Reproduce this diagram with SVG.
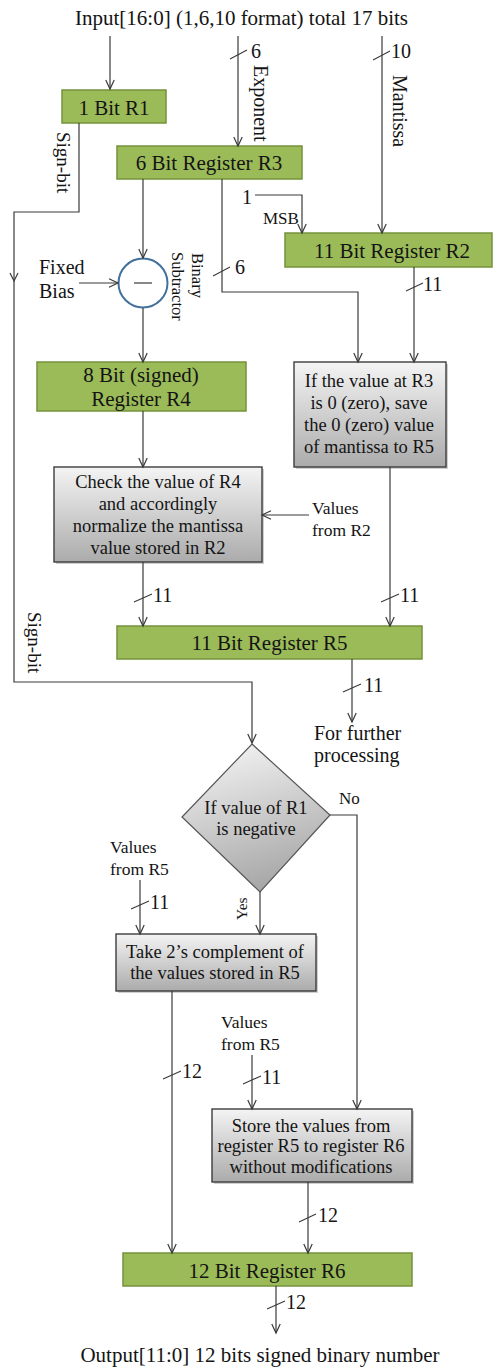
<svg xmlns="http://www.w3.org/2000/svg" width="493" height="1368" viewBox="0 0 493 1368" font-family="'Liberation Serif', 'Times New Roman', serif">
<defs>
<linearGradient id="gg" x1="0" y1="0" x2="0" y2="1">
<stop offset="0" stop-color="#f4f4f4"/>
<stop offset="1" stop-color="#ababab"/>
</linearGradient>
<linearGradient id="gd" x1="0.3" y1="0" x2="0.6" y2="1">
<stop offset="0" stop-color="#f2f2f2"/>
<stop offset="1" stop-color="#a4a4a4"/>
</linearGradient>
<marker id="ah" markerUnits="userSpaceOnUse" markerWidth="12" markerHeight="12" viewBox="0 0 12 12" refX="10" refY="6" orient="auto">
<path d="M1,1.8 L10,6 L1,10.2" fill="none" stroke="#3a3a3a" stroke-width="1.2"/>
</marker>
</defs>
<style>
text{font-family:"Liberation Serif","Times New Roman",serif;fill:#141414;}
.g{fill:#9bbb59;stroke:#74923d;stroke-width:1.5;}
.gr{fill:url(#gg);stroke:#3c3c3c;stroke-width:1.4;}
.sh{fill:#cfcfcf;}
.c{fill:none;stroke:#3a3a3a;stroke-width:1.2;}
.a{marker-end:url(#ah);}
.t{fill:none;stroke:#3a3a3a;stroke-width:1.1;}
.L{font-size:21px;text-anchor:middle;}
.B{font-size:18.5px;text-anchor:middle;}
.n{font-size:20px;}
.s{font-size:17.5px;}
</style>

<text id="title" x="241.5" y="25" font-size="21" text-anchor="middle">Input[16:0] (1,6,10 format) total 17 bits</text>

<g id="r1"><rect class="g" x="62" y="90" width="104" height="33"/><text class="L" x="114" y="115">1 Bit R1</text></g>
<g id="r3"><rect class="g" x="117" y="146" width="185" height="33"/><text class="L" x="209" y="170">6 Bit Register R3</text></g>
<g id="r2"><rect class="g" x="285" y="233" width="207" height="34"/><text class="L" x="392" y="258">11 Bit Register R2</text></g>
<g id="sub"><circle cx="143" cy="283" r="24.5" fill="#fff" stroke="#41719c" stroke-width="2"/><line x1="134" y1="283" x2="152" y2="283" stroke="#555" stroke-width="1.4"/></g>
<g id="r4"><rect class="g" x="37" y="362" width="209" height="49"/><text class="L" x="141" y="382">8 Bit (signed)</text><text class="L" x="141" y="406">Register R4</text></g>
<g id="zero"><rect class="sh" x="296" y="364" width="152" height="105"/><rect class="gr" x="294" y="362" width="152" height="105"/>
<text class="B" x="369" y="387">If the value at R3</text><text class="B" x="369" y="409">is 0 (zero), save</text><text class="B" x="369" y="431">the 0 (zero) value</text><text class="B" x="369" y="453">of mantissa to R5</text></g>
<g id="norm"><rect class="sh" x="56" y="469" width="208" height="95"/><rect class="gr" x="54" y="467" width="208" height="95"/>
<text class="B" x="158" y="488">Check the value of R4</text><text class="B" x="158" y="510">and accordingly</text><text class="B" x="158" y="532">normalize the mantissa</text><text class="B" x="158" y="554">value stored in R2</text></g>
<g id="r5"><rect class="g" x="117" y="626" width="305" height="33"/><text class="L" x="269.5" y="650">11 Bit Register R5</text></g>
<g id="dec"><polygon points="252,744 330,815 260,892 182,817" fill="url(#gd)" stroke="#555" stroke-width="1.2"/><text class="B" x="256" y="814">If value of R1</text><text class="B" x="256" y="835">is negative</text></g>
<g id="twos"><rect class="sh" x="118" y="936" width="200" height="57"/><rect class="gr" x="116" y="934" width="200" height="57"/><text class="B" x="215" y="958">Take 2’s complement of</text><text class="B" x="215" y="979">the values stored in R5</text></g>
<g id="store"><rect class="sh" x="214" y="1111" width="200" height="73"/><rect class="gr" x="212" y="1109" width="200" height="73"/><text class="B" x="311" y="1132">Store the values from</text><text class="B" x="311" y="1152">register R5 to register R6</text><text class="B" x="311" y="1173">without modifications</text></g>
<g id="r6"><rect class="g" x="123" y="1253" width="289" height="33"/><text class="L" x="267" y="1278">12 Bit Register R6</text></g>

<text id="output" x="260" y="1362" font-size="21" text-anchor="middle">Output[11:0] 12 bits signed binary number</text>

<g id="connectors">
<path class="c a" d="M110,36 V89"/>
<path class="c a" d="M238,36 V146"/>
<path class="c a" d="M382,36 V233"/>
<path class="c a" d="M79,123 V212 H14 V682 H252 V743"/>
<path class="c" d="M10,273 L14,281 L18,273"/>
<path class="c a" d="M143,179 V258"/>
<path class="c a" d="M79,283 H118"/>
<path class="c a" d="M143,308 V362"/>
<path class="c a" d="M222,179 V292 H358 V362"/>
<path class="c a" d="M255,195 H302 V233"/>
<path class="c a" d="M414,267 V362"/>
<path class="c a" d="M143,411 V467"/>
<path class="c a" d="M309,515 H262"/>
<path class="c a" d="M143,562 V626"/>
<path class="c a" d="M390,467 V626"/>
<path class="c a" d="M352,659 V722"/>
<path class="c a" d="M330,815 H357 V1109"/>
<path class="c a" d="M260,892 V934"/>
<path class="c a" d="M140,880 V934"/>
<path class="c a" d="M172,991 V1253"/>
<path class="c a" d="M252,1055 V1109"/>
<path class="c a" d="M308,1182 V1253"/>
<path class="c a" d="M276,1286 V1333"/>
<path class="t" d="M230,59 L247,50 M373,60 L390,51 M213,276 L230,267 M406,291 L423,283 M134,602 L152,594 M381,602 L399,594 M343,692 L361,684 M131,909 L149,901 M163,1079 L181,1071 M243,1084 L261,1076 M299,1222 L316,1214 M267,1309 L285,1301"/>
<text class="n" x="251" y="58">6</text>
<text class="n" x="391" y="58">10</text>
<text class="n" x="235" y="274">6</text>
<text class="n" x="423" y="291">11</text>
<text class="n" x="153" y="602">11</text>
<text class="n" x="400" y="602">11</text>
<text class="n" x="364" y="692">11</text>
<text class="n" x="150" y="909">11</text>
<text class="n" x="182" y="1078">12</text>
<text class="n" x="262" y="1084">11</text>
<text class="n" x="318" y="1222">12</text>
<text class="n" x="286" y="1309">12</text>
<text class="n" x="242" y="204">1</text>
<text x="263" y="224" font-size="17">MSB</text>
<text font-size="20" x="39" y="274">Fixed</text>
<text font-size="20" x="39" y="298">Bias</text>
<text class="s" x="312" y="514">Values</text>
<text class="s" x="312" y="536">from R2</text>
<text font-size="20" x="314" y="740">For further</text>
<text font-size="20" x="314" y="762">processing</text>
<text class="s" x="110" y="853">Values</text>
<text class="s" x="110" y="875">from R5</text>
<text class="s" x="221" y="1028">Values</text>
<text class="s" x="221" y="1050">from R5</text>
<text font-size="17" x="339" y="804">No</text>
<text font-size="15.5" transform="translate(247,920) rotate(-90)">Yes</text>
<text font-size="19" transform="translate(57,132) rotate(90)">Sign-bit</text>
<text font-size="19" transform="translate(28,612) rotate(90)">Sign-bit</text>
<text font-size="20" transform="translate(254,65) rotate(90)">Exponent</text>
<text font-size="20" transform="translate(393,75) rotate(90)">Mantissa</text>
<text font-size="16.5" transform="translate(192,253) rotate(90)">Binary</text>
<text font-size="16.5" transform="translate(172,252) rotate(90)">Subtractor</text>
</g>
</svg>
